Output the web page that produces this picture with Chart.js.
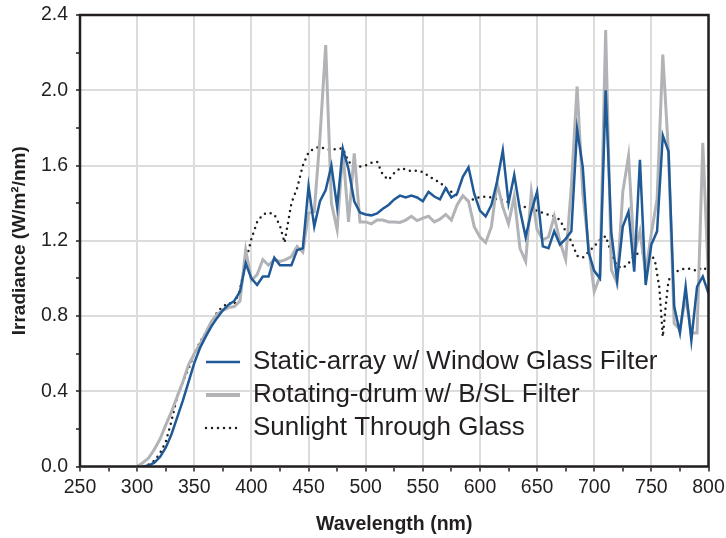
<!DOCTYPE html>
<html>
<head>
<meta charset="utf-8">
<script src="https://cdn.jsdelivr.net/npm/chart.js@4.4.1/dist/chart.umd.min.js"></script>
<style>
  html, body { margin: 0; padding: 0; background: #fff; }
  #wrap { width: 726px; height: 538px; }
</style>
</head>
<body>
<div id="wrap"><canvas id="irrChart"></canvas></div>
<script>
// wavelength grid (nm) shared by the two lamp spectra
const wavelengths = [300, 305, 310, 315, 320, 325, 330, 335, 340, 345, 350, 355, 360, 365, 370, 375, 380, 385, 390, 395,
  400, 405, 410, 415, 420, 425, 430, 435, 440, 445, 450, 455, 460, 465, 470, 475, 480, 485, 490, 495,
  500, 505, 510, 515, 520, 525, 530, 535, 540, 545, 550, 555, 560, 565, 570, 575, 580, 585, 590, 595,
  600, 605, 610, 615, 620, 625, 630, 635, 640, 645, 650, 655, 660, 665, 670, 675, 680, 685, 690, 695,
  700, 705, 710, 715, 720, 725, 730, 735, 740, 745, 750, 755, 760, 765, 770, 775, 780, 785, 790, 795, 800];

// Static-array w/ Window Glass Filter
const staticArray = [null, 0.00, 0.005, 0.02, 0.05, 0.10, 0.17, 0.26, 0.35, 0.45, 0.55, 0.63, 0.69, 0.745, 0.79, 0.83, 0.86, 0.88, 0.93, 1.08,
  1.00, 0.965, 1.01, 1.01, 1.11, 1.07, 1.07, 1.07, 1.15, 1.16, 1.49, 1.275, 1.41, 1.47, 1.60, 1.38, 1.69, 1.58, 1.41, 1.35,
  1.34, 1.335, 1.345, 1.37, 1.39, 1.42, 1.44, 1.43, 1.44, 1.43, 1.41, 1.46, 1.435, 1.42, 1.48, 1.43, 1.45, 1.54, 1.59, 1.45,
  1.36, 1.33, 1.39, 1.515, 1.68, 1.40, 1.55, 1.365, 1.22, 1.355, 1.46, 1.17, 1.16, 1.25, 1.18, 1.21, 1.25, 1.795, 1.59, 1.14,
  1.04, 1.00, 2.00, 1.24, 0.99, 1.275, 1.355, 1.036, 1.63, 0.965, 1.18, 1.25, 1.76, 1.675, 0.85, 0.71, 0.956, 0.67, 0.956, 1.01, 0.92];

// Rotating-drum w/ B/SL Filter
const rotatingDrum = [0.00, 0.02, 0.045, 0.09, 0.145, 0.22, 0.29, 0.37, 0.45, 0.54, 0.60, 0.65, 0.71, 0.77, 0.81, 0.83, 0.845, 0.85, 0.88, 1.15,
  0.99, 1.02, 1.10, 1.07, 1.10, 1.09, 1.10, 1.116, 1.17, 1.14, 1.347, 1.355, 1.75, 2.24, 1.40, 1.26, 1.68, 1.30, 1.665, 1.30,
  1.30, 1.29, 1.31, 1.31, 1.30, 1.30, 1.297, 1.31, 1.33, 1.307, 1.32, 1.33, 1.30, 1.315, 1.34, 1.31, 1.39, 1.44, 1.41, 1.275,
  1.22, 1.19, 1.275, 1.506, 1.38, 1.29, 1.435, 1.16, 1.09, 1.46, 1.26, 1.205, 1.22, 1.33, 1.196, 1.10, 1.49, 2.02, 1.45, 1.17,
  0.93, 1.01, 2.32, 1.045, 0.975, 1.46, 1.65, 1.134, 1.25, 1.03, 1.24, 1.42, 2.19, 1.666, 0.76, 0.73, 0.90, 0.71, 0.71, 1.72, 0.99];

// Sunlight Through Glass (own wavelength grid)
const sunWavelengths = [305, 310, 315, 320, 325, 330, 335, 340, 345, 350, 355, 360, 365, 370, 375, 380, 385, 390, 395,
  400, 405, 410, 415, 420, 425, 429, 435, 440, 445, 450, 455, 460, 465, 470, 475, 480, 485, 490, 495,
  500, 505, 510, 515, 520, 525, 530, 535, 540, 545, 550, 555, 560, 565, 570, 575, 580, 585, 590, 595,
  600, 605, 610, 615, 620, 625, 630, 635, 640, 645, 650, 655, 660, 665, 670, 675, 680, 685, 690, 695,
  700, 705, 710, 715, 720, 725, 730, 735, 740, 745, 750, 753, 757, 760, 763, 765, 770, 775, 780, 785, 790, 795, 800];
const sunlightGlass = [0.00, 0.01, 0.03, 0.07, 0.13, 0.24, 0.37, 0.45, 0.52, 0.60, 0.66, 0.71, 0.76, 0.82, 0.85, 0.87, 0.86, 0.94, 1.09,
  1.21, 1.30, 1.34, 1.35, 1.34, 1.28, 1.19, 1.40, 1.48, 1.60, 1.67, 1.69, 1.70, 1.687, 1.683, 1.69, 1.69, 1.62, 1.595, 1.595,
  1.60, 1.615, 1.62, 1.55, 1.524, 1.56, 1.585, 1.58, 1.57, 1.573, 1.565, 1.545, 1.525, 1.51, 1.48, 1.46, 1.44, 1.42, 1.415, 1.42,
  1.433, 1.435, 1.43, 1.42, 1.415, 1.405, 1.395, 1.386, 1.378, 1.37, 1.36, 1.348, 1.338, 1.33, 1.31, 1.25, 1.196, 1.12, 1.11, 1.14,
  1.17, 1.205, 1.225, 1.134, 1.065, 1.054, 1.08, 1.12, 1.14, 1.134, 1.12, 1.10, 0.95, 0.69, 0.88, 0.99, 1.03, 1.045, 1.054, 1.05, 1.04, 1.06, 1.04];

const seriesLabels = ["Static-array w/ Window Glass Filter", "Rotating-drum w/ B/SL Filter", "Sunlight Through Glass"];

const INK = "#231f20";
const FONT = "'Liberation Sans', Arial, Helvetica, sans-serif";

function toPoints(xs, ys) {
  return xs.map((x, i) => ({ x: x, y: ys[i] }));
}

// black box round the plot area
const frame = {
  id: "frame",
  afterDatasetsDraw(chart) {
    const { ctx, chartArea: a } = chart;
    ctx.save();
    ctx.strokeStyle = INK;
    ctx.lineWidth = 2.5;
    ctx.strokeRect(a.left, a.top, a.right - a.left, a.bottom - a.top);
    ctx.restore();
  }
};

// legend sits inside the plot, no box
const insideLegend = {
  id: "insideLegend",
  afterDraw(chart) {
    const ctx = chart.ctx;
    ctx.save();
    ctx.font = "26px " + FONT;
    ctx.textBaseline = "middle";
    ctx.fillStyle = INK;
    chart.data.datasets.forEach((ds, i) => {
      const y = 362 + i * 33;
      ctx.beginPath();
      ctx.strokeStyle = ds.borderColor;
      ctx.lineWidth = ds.legendWidth;
      ctx.lineCap = ds.borderCapStyle || "butt";
      ctx.setLineDash(ds.borderDash || []);
      ctx.moveTo(206, y);
      ctx.lineTo(240, y);
      ctx.stroke();
      ctx.setLineDash([]);
      ctx.fillText(ds.label, 253, y);
    });
    ctx.restore();
  }
};

Chart.defaults.font.family = FONT;
Chart.defaults.color = INK;

new Chart(document.getElementById("irrChart"), {
  type: "line",
  data: {
    datasets: [{
      label: seriesLabels[0],
      data: toPoints(wavelengths, staticArray),
      borderColor: "#1f5a96",
      borderWidth: 2.5,
      legendWidth: 2.5,
      pointRadius: 0,
      tension: 0
    }, {
      label: seriesLabels[1],
      data: toPoints(wavelengths, rotatingDrum),
      borderColor: "#b1b3b6",
      borderWidth: 3,
      legendWidth: 4,
      pointRadius: 0,
      tension: 0
    }, {
      label: seriesLabels[2],
      data: toPoints(sunWavelengths, sunlightGlass),
      borderColor: INK,
      borderWidth: 2.5,
      legendWidth: 2.5,
      borderDash: [0, 6],
      borderCapStyle: "round",
      pointRadius: 0,
      tension: 0
    }]
  },
  options: {
    responsive: true,
    maintainAspectRatio: false,
    animation: false,
    layout: { padding: { top: 15, right: 17.5, left: 0, bottom: 0 } },
    plugins: {
      legend: { display: false },
      tooltip: { enabled: false }
    },
    scales: {
      x: {
        type: "linear",
        min: 250,
        max: 800,
        afterFit: s => { s.height = 71.5; s.paddingLeft = 0; s.paddingRight = 0; },
        border: { display: false },
        grid: {
          color: c => (c.tick && c.tick.value % 50 === 0) ? "#dcdcdc" : "rgba(0,0,0,0)",
          lineWidth: 2,
          tickColor: INK,
          tickWidth: 1.5,
          tickLength: 5
        },
        ticks: {
          stepSize: 25,
          autoSkip: false,
          maxRotation: 0,
          padding: 4,
          font: { size: 19.5 },
          callback: v => (v % 50 === 0 ? String(v) : "")
        },
        title: {
          display: true,
          text: "Wavelength (nm)",
          font: { size: 19.5, weight: "bold" },
          padding: { top: 0, bottom: 1.5 }
        }
      },
      y: {
        min: 0,
        max: 2.4,
        afterFit: s => { s.width = 80; s.paddingTop = 0; s.paddingBottom = 0; },
        border: { display: false },
        grid: {
          color: c => (c.tick && Math.round(c.tick.value * 10) % 4 === 0) ? "#dcdcdc" : "rgba(0,0,0,0)",
          lineWidth: 2,
          tickColor: INK,
          tickWidth: 1.5,
          tickLength: 4
        },
        ticks: {
          stepSize: 0.2,
          autoSkip: false,
          padding: 8,
          font: { size: 19.5 },
          callback: v => (Math.round(v * 10) % 4 === 0 ? v.toFixed(1) : "")
        },
        title: {
          display: true,
          text: "Irradiance (W/m²/nm)",
          font: { size: 19, weight: "bold" },
          padding: { top: 8.3, bottom: 0 }
        }
      }
    }
  },
  plugins: [frame, insideLegend]
});
</script>
</body>
</html>
